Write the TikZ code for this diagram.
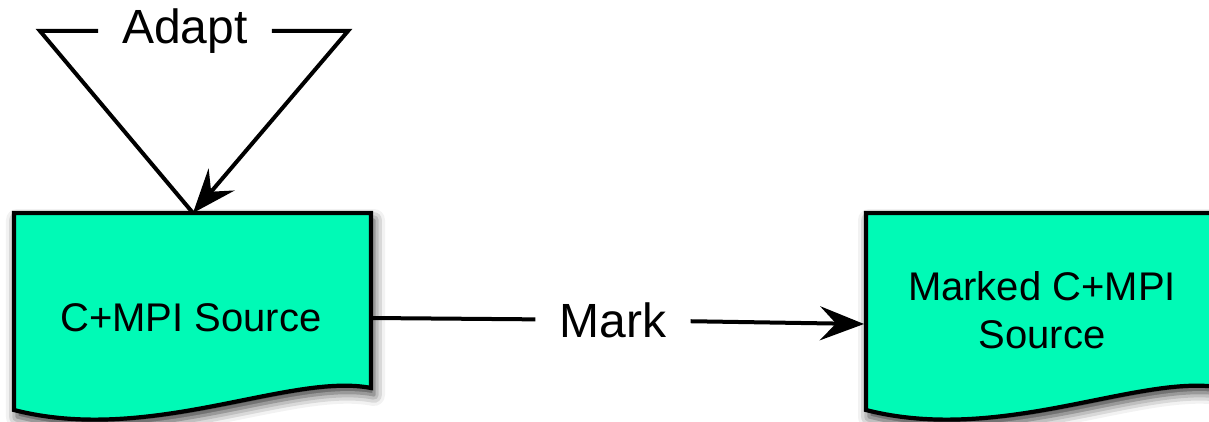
\documentclass[tikz,border=0pt]{standalone}
\usepackage{fontspec}
\setmainfont{Liberation Sans}
\usetikzlibrary{arrows.meta,shadows.blur}
\definecolor{docfill}{RGB}{0,250,182}
\tikzset{
  docshape/.style={draw=black, line width=4.2pt, fill=docfill, line join=miter,
    blur shadow={shadow xshift=3pt, shadow yshift=-7pt, shadow blur radius=11pt, shadow opacity=80}},
  doctext/.style={font=\fontsize{40}{48}\selectfont, align=center, inner sep=0pt},
  edgelabel/.style={font=\fontsize{48}{56}\selectfont, inner xsep=24pt, inner ysep=4pt},
  conn/.style={line width=4pt, black},
  tip/.style={-{Stealth[length=44pt,width=34pt,inset=16pt]}},
}
\begin{document}
\begin{tikzpicture}[x=1pt,y=-1pt]
\useasboundingbox (0,0) rectangle (1209,422);
% documents
\path[docshape] (14,213) -- (371,213) -- (371,388)
  .. controls (290,372) and (150,445) .. (14,410) -- cycle;
\path[docshape] (866,213) -- (1223,213) -- (1223,388)
  .. controls (1142,372) and (1002,445) .. (866,410) -- cycle;
\node[doctext, anchor=base] (src) at (191,331) {C+MPI Source};
\node[doctext, anchor=base] (mkd) at (1042,348) {Marked C+MPI\\Source};
% connector points on document borders
\coordinate (srcTop) at (193,213);
\coordinate (srcE) at (371,318);
\coordinate (mkdW) at (864,324);
\coordinate (adl) at (40,31);
\coordinate (adr) at (348,31);
% labels
\node[edgelabel] (adapt) at (185,31) {Adapt};
\node[edgelabel] (mark) at (613,320) {Mark};
% connectors
\draw[conn, line join=miter] (srcTop) -- (adl) -- (adl -| adapt.west);
\draw[conn, tip, line join=miter] (adr -| adapt.east) -- (adr) -- (srcTop);
\draw[conn] (srcE) -- (mark);
\draw[conn, tip] (mark) -- (mkdW);
\end{tikzpicture}
\end{document}
